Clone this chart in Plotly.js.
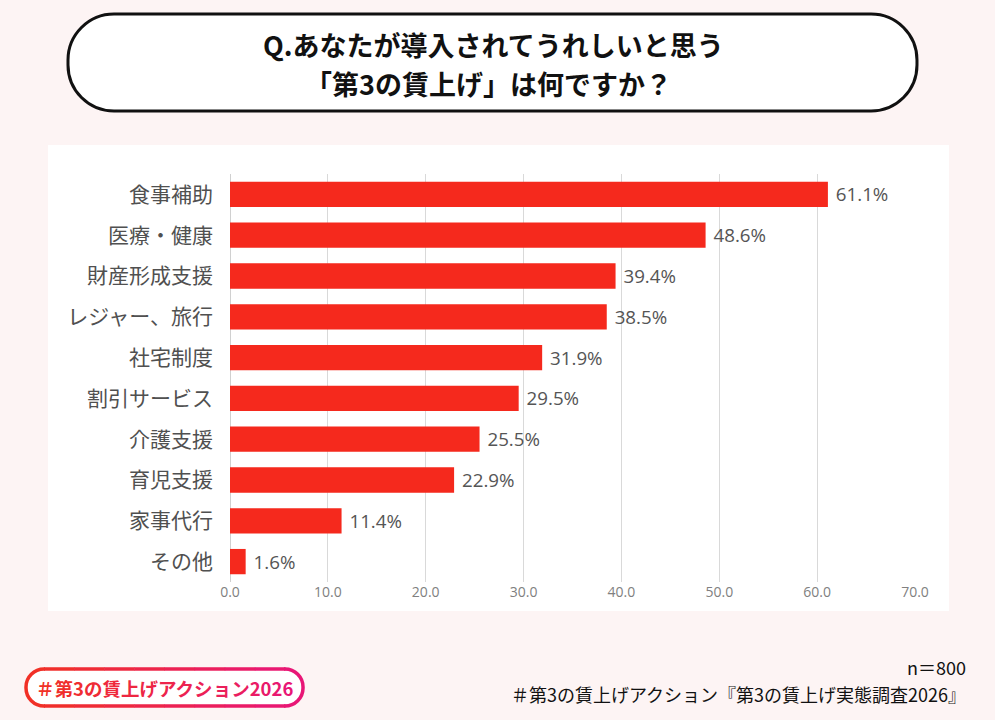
<!DOCTYPE html>
<html>
<head>
<meta charset="utf-8">
<script src="https://cdn.plot.ly/plotly-3.0.1.min.js"></script>
<style>
  body { margin: 0; background: #fdf4f4; }
  #chart { width: 995px; height: 720px; }
</style>
</head>
<body>
<div id="chart"></div>
<script>
// survey answers, top to bottom
var categories = ['食事補助', '医療・健康', '財産形成支援', 'レジャー、旅行', '社宅制度',
                  '割引サービス', '介護支援', '育児支援', '家事代行', 'その他'];
var values = [61.1, 48.6, 39.4, 38.5, 31.9, 29.5, 25.5, 22.9, 11.4, 1.6];
var xTicks = [0, 10, 20, 30, 40, 50, 60, 70];

var JP = '"Noto Sans CJK JP", "Noto Sans", sans-serif';
var NUM = '"Open Sans", "Noto Sans CJK JP", sans-serif';

// page size and plot margins (px)
var W = 995, H = 720, mL = 230, mR = 80, mT = 174, mB = 138;
var pw = W - mL - mR, ph = H - mT - mB;
function fx(px) { return (px - mL) / pw; }
function fy(py) { return (H - mB - py) / ph; }
function pt(p) { return fx(p[0]).toFixed(4) + ',' + fy(p[1]).toFixed(4); }

// rounded box as a path in paper coords
function pill(x0, y0, x1, y1, r) {
  var k = 0.5523 * r;
  var pts = [
    'M', [x0 + r, y0], 'L', [x1 - r, y0],
    'C', [x1 - r + k, y0], [x1, y0 + r - k], [x1, y0 + r],
    'L', [x1, y1 - r],
    'C', [x1, y1 - r + k], [x1 - r + k, y1], [x1 - r, y1],
    'L', [x0 + r, y1],
    'C', [x0 + r - k, y1], [x0, y1 - r + k], [x0, y1 - r],
    'L', [x0, y0 + r],
    'C', [x0, y0 + r - k], [x0 + r - k, y0], [x0 + r, y0], 'Z'
  ];
  return pts.map(function (p) { return typeof p === 'string' ? p : pt(p); }).join(' ');
}

function mix(t) {
  var a = [241, 48, 38], b = [232, 22, 118];
  return 'rgb(' + a.map(function (v, i) { return Math.round(v + (b[i] - v) * t); }).join(',') + ')';
}

// pill outline drawn in pieces so the colour fades left to right
function gradientPill(x0, y0, x1, y1, r, width) {
  var k = 0.5523 * r, out = [], n = 8;
  var line = function (c) { return { color: c, width: width }; };
  out.push({ type: 'path', xref: 'paper', yref: 'paper', line: line(mix(0)),
    path: 'M ' + pt([x0 + r + 1, y0]) + ' L ' + pt([x0 + r, y0]) +
          ' C ' + pt([x0 + r - k, y0]) + ' ' + pt([x0, y0 + r - k]) + ' ' + pt([x0, y0 + r]) +
          ' L ' + pt([x0, y1 - r]) +
          ' C ' + pt([x0, y1 - r + k]) + ' ' + pt([x0 + r - k, y1]) + ' ' + pt([x0 + r, y1]) +
          ' L ' + pt([x0 + r + 1, y1]) });
  out.push({ type: 'path', xref: 'paper', yref: 'paper', line: line(mix(1)),
    path: 'M ' + pt([x1 - r - 1, y0]) + ' L ' + pt([x1 - r, y0]) +
          ' C ' + pt([x1 - r + k, y0]) + ' ' + pt([x1, y0 + r - k]) + ' ' + pt([x1, y0 + r]) +
          ' L ' + pt([x1, y1 - r]) +
          ' C ' + pt([x1, y1 - r + k]) + ' ' + pt([x1 - r + k, y1]) + ' ' + pt([x1 - r, y1]) +
          ' L ' + pt([x1 - r - 1, y1]) });
  var span = (x1 - r) - (x0 + r);
  for (var i = 0; i < n; i++) {
    var a = x0 + r + span * i / n, b = x0 + r + span * (i + 1) / n + 0.5;
    var c = mix((i + 0.5) / n);
    out.push({ type: 'path', xref: 'paper', yref: 'paper', line: line(c),
      path: 'M ' + pt([a, y0]) + ' L ' + pt([b, y0]) });
    out.push({ type: 'path', xref: 'paper', yref: 'paper', line: line(c),
      path: 'M ' + pt([a, y1]) + ' L ' + pt([b, y1]) });
  }
  return out;
}

var trace = {
  type: 'bar',
  orientation: 'h',
  x: values,
  y: categories,
  marker: { color: '#f5291d' },
  text: values.map(function (v) { return '\u00a0' + v.toFixed(1) + '%'; }),
  textposition: 'outside',
  textfont: { family: NUM, size: 20, color: '#555555' },
  cliponaxis: false,
  hoverinfo: 'none'
};

// logo text with a red→pink fade
var logoChars = Array.from('＃第3の賃上げアクション2026');
var logoText = logoChars.map(function (c, i) {
  return '<span style="color:' + mix(i / (logoChars.length - 1)) + '">' + c + '</span>';
}).join('');

var shapes = [
  // white panel behind the chart
  { type: 'rect', xref: 'paper', yref: 'paper', layer: 'below',
    x0: fx(48), x1: fx(949), y0: fy(611), y1: fy(145),
    fillcolor: '#ffffff', line: { width: 0 } },
  // title box
  { type: 'path', xref: 'paper', yref: 'paper', layer: 'above',
    path: pill(68, 14, 917, 111, 46),
    fillcolor: '#ffffff', line: { color: '#111111', width: 3 } },
  // campaign logo fill
  { type: 'path', xref: 'paper', yref: 'paper', layer: 'above',
    path: pill(26, 669, 303, 706, 18),
    fillcolor: '#ffffff', line: { width: 0 } }
].concat(gradientPill(26, 669, 303, 706, 18, 3.5));

function note(text, px, py, anchor, size, extra) {
  var a = { xref: 'paper', yref: 'paper', x: fx(px), y: fy(py),
    xanchor: anchor, yanchor: 'middle', showarrow: false, borderpad: 0,
    text: text, font: { family: JP, size: size, color: '#111111' } };
  return Object.assign(a, extra || {});
}

var layout = {
  width: W,
  height: H,
  margin: { l: mL, r: mR, t: mT, b: mB },
  paper_bgcolor: '#fdf4f4',
  plot_bgcolor: '#ffffff',
  showlegend: false,
  bargap: 0.38,
  xaxis: {
    range: [0, 70],
    tickvals: xTicks,
    tickformat: '.1f',
    showgrid: true,
    gridcolor: '#d9d9d9',
    zeroline: true,
    zerolinecolor: '#d0d0d0',
    zerolinewidth: 1,
    showline: false,
    ticks: '',
    tickfont: { family: NUM, size: 14, color: '#808080' },
    fixedrange: true
  },
  yaxis: {
    autorange: 'reversed',
    showgrid: false,
    zeroline: false,
    showline: false,
    ticks: '',
    ticklabelstandoff: 16,
    tickfont: { family: JP, size: 21, color: '#505050' },
    fixedrange: true
  },
  shapes: shapes,
  annotations: [
    note('<b>Q.あなたが導入されてうれしいと思う</b>', 493, 44, 'center', 27),
    note('<b>「第3の賃上げ」は何ですか？</b>', 488, 84, 'center', 27),
    note('n＝800', 967, 667, 'right', 18),
    note('＃第3の賃上げアクション『第3の賃上げ実態調査2026』', 967, 694, 'right', 18),
    note('<b>' + logoText + '</b>', 164, 688, 'center', 18.5, { font: { family: JP, size: 18.5, color: '#f0282a' } })
  ]
};

Plotly.newPlot('chart', [trace], layout, { displayModeBar: false, staticPlot: true });
</script>
</body>
</html>
